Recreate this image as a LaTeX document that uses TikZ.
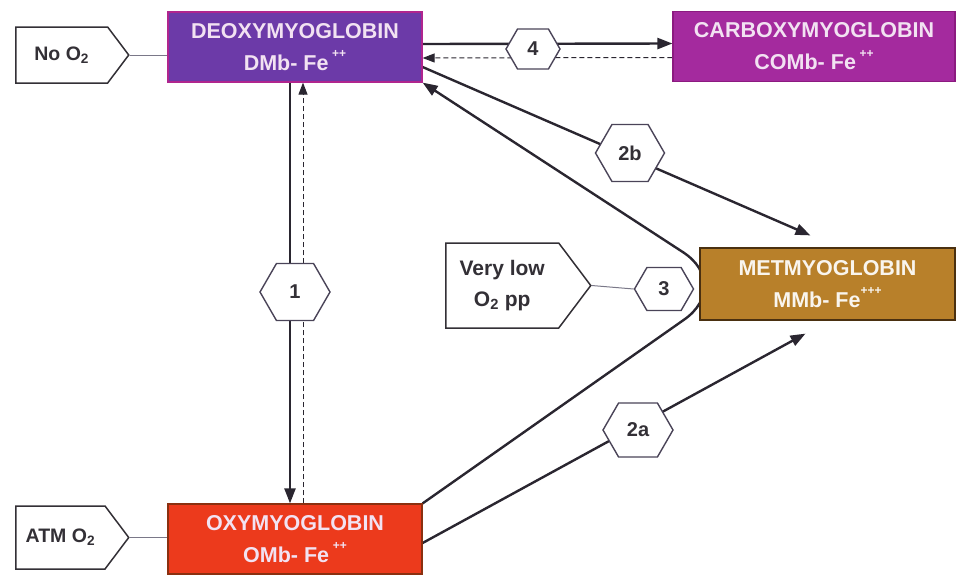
\documentclass[tikz,border=0pt]{standalone}
\usepackage{fontspec}
\setmainfont{Liberation Sans}
\usetikzlibrary{arrows.meta,shapes.symbols,calc,backgrounds}
\definecolor{deoxyfill}{HTML}{6C3AA8}
\definecolor{deoxyline}{HTML}{B0258E}
\definecolor{carbfill}{HTML}{A42A9E}
\definecolor{carbline}{HTML}{8C1A80}
\definecolor{metfill}{HTML}{B8802A}
\definecolor{metline}{HTML}{4A3010}
\definecolor{oxyfill}{HTML}{EC3A1C}
\definecolor{oxyline}{HTML}{8A3010}
\definecolor{boxtext}{HTML}{F2E2F2}
\definecolor{labelink}{HTML}{333036}
\definecolor{flowink}{HTML}{2A2630}
\definecolor{hexline}{HTML}{4A4458}
\definecolor{linkgray}{HTML}{7A7888}

\begin{document}
\begin{tikzpicture}[x=1pt, y=-1pt, >={Triangle[length=15pt,width=11pt]},
                    box/.style={draw, line width=1.2pt, minimum width=254pt, minimum height=70pt,
                                inner sep=0pt, align=center, text=boxtext,
                                font=\fontsize{21.5}{32}\selectfont\bfseries},
                    tag/.style={signal, signal to=east, signal pointer angle=106, anchor=west,
                                draw=labelink, line width=1.5pt, fill=white, text=labelink,
                                align=center, font=\fontsize{19.5}{31}\selectfont\bfseries},
                    hexa/.style={signal, signal to=east and west, signal pointer angle=120,
                                 draw=hexline, line width=1.4pt, fill=white, text=labelink,
                                 font=\fontsize{20}{22}\selectfont\bfseries},
                    flow/.style={draw=flowink, line width=2.4pt},
                    back/.style={draw=flowink, line width=1pt, dash pattern=on 5pt off 3pt,
                                 >={Triangle[length=12pt,width=9pt]}},
                    link/.style={draw=linkgray, line width=1pt}]

  \useasboundingbox (0,0) rectangle (971,574);

  %% the four forms of myoglobin
  \node[box, fill=deoxyfill, draw=deoxyline] (deoxy) at (295,47)
    {DEOXYMYOGLOBIN\\DMb- Fe\,\raisebox{0.6em}{\fontsize{12}{12}\selectfont ++}};
  \node[box, fill=carbfill, draw=carbline, minimum width=282pt] (carb) at (814,46.5)
    {CARBOXYMYOGLOBIN\\COMb- Fe\,\raisebox{0.6em}{\fontsize{12}{12}\selectfont ++}};
  \node[box, fill=metfill, draw=metline, minimum width=255pt, minimum height=72pt,
        text=white!92!metfill] (met) at (827.5,284)
    {METMYOGLOBIN\\MMb- Fe\raisebox{0.6em}{\fontsize{12}{12}\selectfont +++}};
  \node[box, fill=oxyfill, draw=oxyline] (oxy) at (295,539)
    {OXYMYOGLOBIN\\OMb- Fe\,\raisebox{0.6em}{\fontsize{12}{12}\selectfont ++}};

  %% conditions
  \node[tag, minimum width=113pt, minimum height=56pt] (noO2) at (15,55) {No O\textsubscript{2}};
  \node[tag, minimum width=113pt, minimum height=63pt] (atmO2) at (15,537.5) {ATM O\textsubscript{2}};
  \node[tag, minimum width=145pt, minimum height=85pt, font=\fontsize{21}{31}\selectfont\bfseries]
    (lowO2) at (445,285.5) {Very low\\O\textsubscript{2} pp};

  %% reaction labels
  \node[hexa, minimum width=70pt, minimum height=57pt] (r1) at (295,292) {1};
  \node[hexa, minimum width=69pt, minimum height=57pt] (r2b) at (630,153) {2b};
  \node[hexa, minimum width=70pt, minimum height=54pt] (r2a) at (638,430) {2a};
  \node[hexa, minimum width=59pt, minimum height=43pt] (r3) at (664,289) {3};
  \node[hexa, minimum width=54pt, minimum height=40pt] (r4) at (533,49) {4};

  \begin{pgfonlayer}{background}
    %% 1: deoxy <-> oxy
    \draw[flow, ->] ($(deoxy.south)+(-5,0)$) -- ($(oxy.north)+(-5,0)$);
    \draw[back, ->] ($(oxy.north)+(8,0)$) -- ($(deoxy.south)+(8,0)$);
    %% 4: deoxy <-> carboxy
    \draw[flow, ->] ($(deoxy.east)+(0,-3)$) -- ($(carb.west)+(0,-3)$);
    \draw[back, ->] ($(carb.west)+(0,11)$) -- ($(deoxy.east)+(0,11)$);
    %% 2a, 2b: oxidation
    \draw[flow, ->] ($(deoxy.east)+(0,20)$) -- ($(met.north)+(-17,-12)$);
    \draw[flow, ->] ($(oxy.east)+(0,4)$) -- ($(met.south)+(-22,13)$);
    %% 3: reduction
    \draw[flow, ->, rounded corners=60pt] (oxy.north east) -- ($(met.west)+(34,1)$) -- (deoxy.south east);
    %% conditions to forms
    \draw[link] (noO2.east) -- (noO2.east -| deoxy.west);
    \draw[link] (atmO2.east) -- (atmO2.east -| oxy.west);
    \draw[link] (lowO2.east) -- (r3.west);
  \end{pgfonlayer}

\end{tikzpicture}
\end{document}
